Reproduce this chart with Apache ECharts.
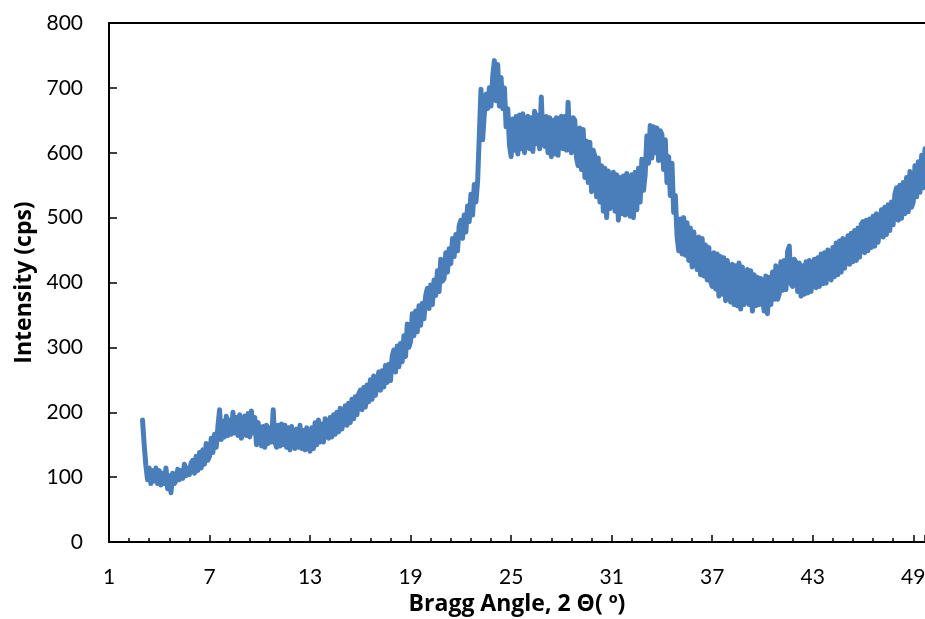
<!DOCTYPE html>
<html>
<head>
<meta charset="utf-8">
<script src="https://cdn.jsdelivr.net/npm/echarts@6/dist/echarts.min.js"></script>
<style>
html,body{margin:0;padding:0;background:#fff;}
#chart{width:925px;height:619px;}
</style>
</head>
<body>
<div id="chart"></div>
<script>
// Bragg angle (2θ, degrees): first sample and sampling step
const angleStart = 3.0;
const angleStep = 0.1;
// Intensity (cps), one row per degree (3.0 … 49.9)
const intensity = [
  188,150,118,96,114,90,110,94,114,90,
  110,88,106,90,114,82,102,76,106,90,
  94,112,96,110,98,120,102,114,104,122,
  126,106,132,110,138,114,142,120,152,126,
  132,160,138,166,146,178,204,158,186,162,
  194,164,188,166,200,168,192,164,196,160,
  158,194,164,198,162,202,168,192,150,184,
  184,148,178,146,180,152,176,154,204,154,
  146,180,148,182,150,180,146,176,142,178,
  176,144,174,146,180,144,172,142,176,146,
  140,176,144,184,150,188,154,182,154,190,
  192,160,192,162,196,166,200,170,206,174,
  176,210,180,214,184,220,190,224,196,228,
  234,204,238,208,242,216,250,220,256,226,
  226,262,234,264,239,272,246,274,249,286,
  296,262,302,270,306,278,318,286,336,300,
  309,352,318,356,324,364,334,368,344,380,
  391,360,396,366,404,380,418,386,436,402,
  406,446,416,452,429,468,440,474,449,488,
  496,468,504,478,518,494,536,504,551,524,
  556,626,698,620,660,690,668,700,672,718,
  742,680,736,672,716,668,700,640,668,612,
  594,652,604,656,598,658,606,660,600,652,
  656,606,654,602,664,614,658,606,686,614,
  610,656,600,654,594,650,598,654,596,652,
  656,606,656,604,678,610,600,654,650,592,
  580,638,574,636,562,618,554,616,540,604,
  594,532,592,524,580,510,576,500,572,514,
  514,570,510,566,496,562,506,564,504,568,
  568,502,566,500,570,512,576,524,590,542,
  566,626,584,642,592,640,600,638,588,634,
  628,574,620,554,594,534,584,508,534,472,
  449,498,444,500,442,492,434,484,424,478,
  476,420,470,412,468,410,458,404,454,402,
  394,446,390,444,379,440,382,438,372,434,
  431,370,428,366,426,364,430,359,424,366,
  369,420,366,418,356,412,364,408,366,406,
  404,356,410,352,408,366,416,374,426,374,
  382,432,388,434,389,448,456,398,394,436,
  431,386,430,379,426,382,432,384,434,386,
  389,436,392,438,394,444,398,446,399,450,
  451,404,454,409,461,412,464,416,468,422,
  424,472,428,476,432,480,434,484,439,490,
  494,446,496,449,498,454,502,456,506,462,
  464,512,470,516,474,520,480,524,489,536,
  546,496,550,499,554,506,562,509,571,516,
  524,580,532,586,539,596,546,606,564,600
];
const xTitle = 'Bragg Angle, 2 \u0398( \u00BA)';
const yTitle = 'Intensity (cps)';

const angles = intensity.map((_, i) => +(angleStart + angleStep * i).toFixed(1));
const seriesData = angles.map((a, i) => [a, intensity[i]]);

const FONT = 'Lato, "Open Sans", sans-serif';
const TITLE_FONT = '"Open Sans", Lato, sans-serif';
const chart = echarts.init(document.getElementById('chart'));
chart.setOption({
  animation: false,
  backgroundColor: '#fff',
  grid: { left: 109, right: 0, top: 23, bottom: 77, containLabel: false, outerBoundsMode: 'none' },
  xAxis: [{
    type: 'value',
    min: 1, max: 49.7, interval: 6,
    position: 'bottom',
    name: xTitle,
    nameLocation: 'middle',
    nameGap: 51,
    nameTextStyle: { fontFamily: TITLE_FONT, fontWeight: 'bold', fontSize: 23, color: '#000' },
    axisLine: { show: true, onZero: false, lineStyle: { color: '#000', width: 2 } },
    axisTick: { show: true, inside: true, length: 7, lineStyle: { color: '#000', width: 1.5 } },
    minorTick: { show: true, splitNumber: 5, length: 4, lineStyle: { color: '#000', width: 1.5 } },
    splitLine: { show: false },
    minorSplitLine: { show: false },
    axisLabel: {
      fontFamily: FONT, fontSize: 21, color: '#000', margin: 25,
      formatter: v => ((Math.round(v) - 1) % 6 === 0 && Math.abs(v - Math.round(v)) < 1e-6) ? String(Math.round(v)) : ''
    }
  }, {
    type: 'value',
    min: 1, max: 49.7,
    position: 'top',
    axisLine: { show: true, onZero: false, lineStyle: { color: '#000', width: 2 } },
    axisTick: { show: false },
    axisLabel: { show: false },
    splitLine: { show: false }
  }],
  yAxis: {
    type: 'value',
    min: 0, max: 800, interval: 100,
    name: yTitle,
    nameLocation: 'middle',
    nameGap: 73,
    nameRotate: 90,
    nameTextStyle: { fontFamily: TITLE_FONT, fontWeight: 'bold', fontSize: 23, color: '#000' },
    axisLine: { show: true, onZero: false, lineStyle: { color: '#000', width: 2 } },
    axisTick: { show: true, inside: true, length: 8, lineStyle: { color: '#000', width: 1.5 } },
    splitLine: { show: false },
    axisLabel: { fontFamily: FONT, fontSize: 21, color: '#000', margin: 26 }
  },
  series: [{
    type: 'line',
    xAxisIndex: 0,
    data: seriesData,
    showSymbol: false,
    symbol: 'none',
    clip: true,
    lineStyle: { color: '#4a7ebb', width: 5, join: 'round', cap: 'round' },
    itemStyle: { color: '#4a7ebb' }
  }]
});
</script>
</body>
</html>
